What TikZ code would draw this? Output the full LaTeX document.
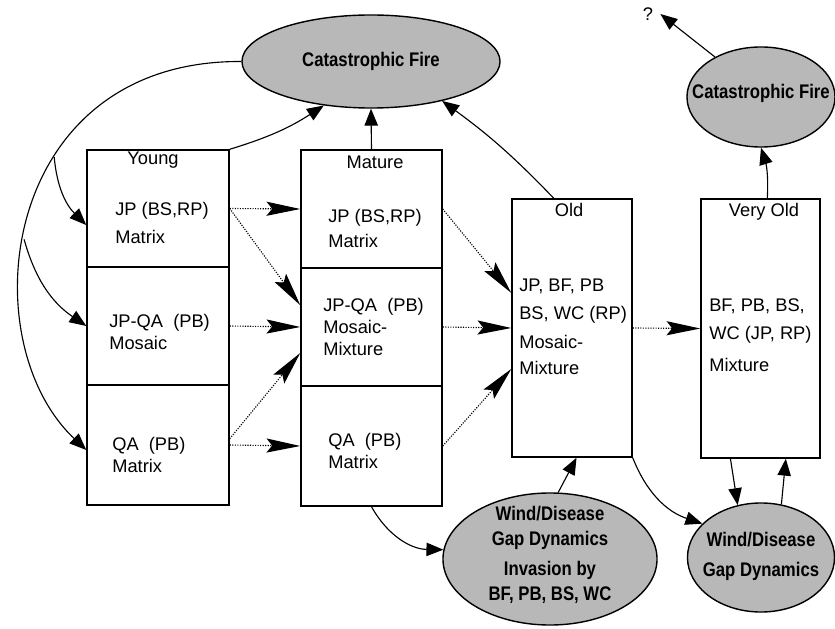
\documentclass[tikz,border=0pt]{standalone}
\usepackage{fontspec}
\setmainfont{Liberation Sans}
\newfontfamily\ellfont[FakeStretch=0.85]{Liberation Sans}
\usetikzlibrary{shapes.geometric, arrows.meta}

\tikzset{
  cell/.style={draw, line width=1pt, minimum width=3.55cm, inner sep=0pt},
  stand/.style={draw, line width=1pt, inner sep=0pt},
  dist/.style={ellipse, draw, line width=1pt, fill=black!28, inner sep=0pt},
  celltext/.style={anchor=west, align=left, inner sep=0pt, font=\fontsize{13}{15.5}\selectfont},
  title/.style={inner sep=0pt, font=\fontsize{13}{16}\selectfont},
  disttext/.style={align=center, inner sep=0pt, font=\ellfont\bfseries\fontsize{14}{17.75}\selectfont},
  trans/.style={densely dotted, line width=0.8pt, -{Stealth[length=24pt, width=10pt, inset=4pt]}},
  flow/.style={line width=0.8pt, -{Triangle[length=12pt, width=9.5pt]}},
}

\begin{document}
\begin{tikzpicture}[x=0.025cm, y=0.025cm]
  \useasboundingbox (0,0) rectangle (835,-629);

  %Define nodes
  \node[dist, minimum width=6.45cm, minimum height=2.325cm] (fire_mid) at (371,-61.5) {};
  \node[disttext] (fire_mid_txt) at (fire_mid) {Catastrophic Fire};
  \node[dist, minimum width=3.7cm, minimum height=2.5cm] (fire_right) at (761,-97) {};
  \node[disttext] (fire_right_txt) at (761,-93) {Catastrophic Fire};
  \node[title, inner sep=5pt] (unknown) at (648,-14) {?};

  \node[cell, minimum height=2.925cm] (young_jp) at (158,-208.5) {};
  \node[cell, minimum height=2.95cm] (young_mosaic) at (158,-326) {};
  \node[cell, minimum height=3cm] (young_qa) at (158,-445) {};
  \node[title] (young_lbl) at (153,-160) {Young};
  \node[celltext] (young_jp_txt) at (115,-223) {JP (BS,RP)\\[5pt]Matrix};
  \node[celltext] (young_mosaic_txt) at (109,-332) {JP-QA\ \ (PB)\\Mosaic};
  \node[celltext] (young_qa_txt) at (112,-455) {QA\ \ (PB)\\Matrix};

  \node[cell, minimum width=3.525cm, minimum height=2.95cm] (mature_jp) at (371.5,-209) {};
  \node[cell, minimum width=3.525cm, minimum height=2.95cm] (mature_mix) at (371.5,-327) {};
  \node[cell, minimum width=3.525cm, minimum height=3cm] (mature_qa) at (371.5,-446) {};
  \node[title] (mature_lbl) at (375,-162) {Mature};
  \node[celltext] (mature_jp_txt) at (328,-228) {JP (BS,RP)\\[2.3pt]Matrix};
  \node[celltext] (mature_mix_txt) at (323,-327) {JP-QA\ \ (PB)\\Mosaic-\\Mixture};
  \node[celltext] (mature_qa_txt) at (328,-451) {QA\ \ (PB)\\Matrix};

  \node[stand, minimum width=3cm, minimum height=6.45cm] (old) at (572,-328) {};
  \node[title] (old_lbl) at (569,-210) {Old};
  \node[celltext] (old_txt) at (519,-327) {JP, BF, PB\\[4.5pt]BS, WC (RP)\\[5pt]Mosaic-\\[3pt]Mixture};

  \node[stand, minimum width=2.975cm, minimum height=6.475cm] (vold) at (760.5,-328.5) {};
  \node[title] (vold_lbl) at (764,-212) {Very Old};
  \node[celltext] (vold_txt) at (709,-335) {BF, PB, BS,\\[4.5pt]WC (JP, RP)\\[7pt]Mixture};

  \node[dist, minimum width=5.35cm, minimum height=3.3cm] (gap_old) at (550,-559) {};
  \node[disttext] (gap_old_txt) at (550,-555) {Wind/Disease\\Gap Dynamics\\[4pt]Invasion by\\BF, PB, BS, WC};
  \node[dist, minimum width=3.675cm, minimum height=2.725cm] (gap_vold) at (761,-557.5) {};
  \node[disttext] (gap_vold_txt) at (761,-556) {Wind/Disease\\[3.5pt]Gap Dynamics};

  % Connect the nodes
  \draw[flow] (fire_mid.180) .. controls (0,-60) and (-30,-340) .. (young_qa.184)
    coordinate[pos=0.38] (arc_a) coordinate[pos=0.55] (arc_b);
  \draw[flow] (arc_a) to[bend right=20] (young_jp.193);
  \draw[flow] (arc_b) to[bend right=20] (young_mosaic.west);

  \draw[flow] (young_jp.north east) to[bend right=8] (fire_mid.223);
  \draw[flow] (mature_jp.north) -- (fire_mid.south);
  \draw[flow] (old.98) to[bend right=5] (fire_mid.331);
  \draw[flow] (vold.87) to[bend right=10] (fire_right.south);
  \draw[flow] (fire_right.139) -- (unknown.east);

  \draw[flow] (mature_qa.south) to[bend right=30] (gap_old.175);
  \draw[flow] (gap_old.83) -- (old.272);
  \draw[flow] (old.south east) to[bend right=25] (gap_vold.150);
  \draw[flow] (vold.257) -- (gap_vold.114);
  \draw[flow] (gap_vold.69) -- (vold.281);

  % Transitions
  \draw[trans] (young_jp.east) -- (mature_jp.west);
  \draw[trans] (young_jp.east) -- (mature_mix.163);
  \draw[trans] (young_mosaic.east) -- (mature_mix.west);
  \draw[trans] (young_qa.5) -- (mature_mix.200);
  \draw[trans] (young_qa.east) -- (mature_qa.west);
  \draw[trans] (mature_jp.east) -- (old.150);
  \draw[trans] (mature_mix.east) -- (old.west);
  \draw[trans] (mature_qa.east) -- (old.214);
  \draw[trans] (old.east) -- (vold.west);

\end{tikzpicture}
\end{document}
